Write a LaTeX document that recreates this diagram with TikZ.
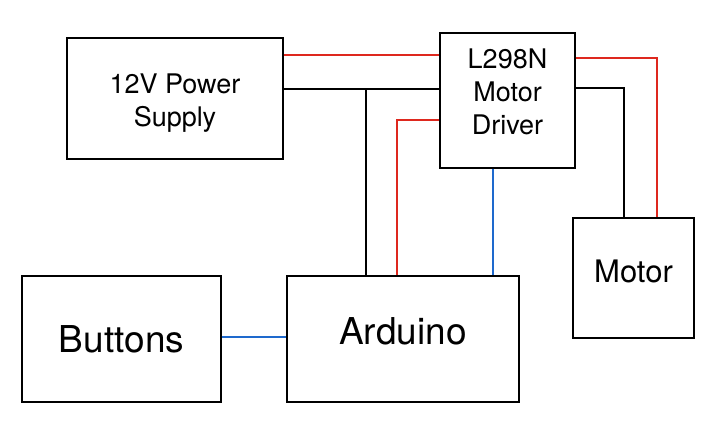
\documentclass[tikz,border=0pt]{standalone}
\usepackage{fontspec}
\setmainfont{TeX Gyre Heros}
\usepackage{tikz}
\usetikzlibrary{calc,positioning}
\definecolor{wirered}{RGB}{222,40,30}
\definecolor{wireblue}{RGB}{30,105,205}

\begin{document}
\begin{tikzpicture}[x=1pt,y=-1pt,
  box/.style={draw,line width=1.4pt,inner sep=0pt},
  lbl/.style={align=center,font=\fontsize{27}{33}\selectfont},
  big/.style={font=\fontsize{37}{44}\selectfont},
  redw/.style={wirered,line width=1.3pt},
  blkw/.style={black,line width=1.1pt},
  bluw/.style={wireblue,line width=1.3pt}]
\useasboundingbox (0,0) rectangle (720,436);
\node[box,minimum width=216pt,minimum height=121pt,
  label={[lbl,yshift=-5pt]center:12V Power\\Supply}] (psu) at (175,98.5) {};
\node[box,minimum width=135pt,minimum height=135pt,
  label={[lbl,yshift=9pt]center:L298N\\Motor\\Driver}] (drv) at (507.5,100.5) {};
\node[box,minimum width=121pt,minimum height=120pt,
  label={[lbl,font=\fontsize{31}{37}\selectfont,yshift=7pt]center:Motor}] (mot) at (633.5,278) {};
\node[box,minimum width=199pt,minimum height=126pt,
  label={[big]center:Buttons}] (btn) at (121.5,339) {};
\node[box,minimum width=232pt,minimum height=126pt,
  label={[big,yshift=8pt]center:Arduino}] (ard) at (403,339) {};
\coordinate (tap) at (366,89);
\draw[redw] (psu.east |- 0,55) -- (drv.west |- 0,55);
\draw[blkw] (psu.east |- 0,89) -- (drv.west |- 0,89);
\draw[blkw] (tap) -- (tap |- ard.north);
\draw[redw] (drv.west |- 0,120) -| (ard.north -| 397,0);
\draw[bluw] (drv.south -| 493,0) -- (ard.north -| 493,0);
\draw[redw] (drv.east |- 0,58) -| (mot.north -| 657,0);
\draw[blkw] (drv.east |- 0,88) -| (mot.north -| 624,0);
\draw[bluw] (btn.east |- 0,337) -- (ard.west |- 0,337);
\end{tikzpicture}
\end{document}
